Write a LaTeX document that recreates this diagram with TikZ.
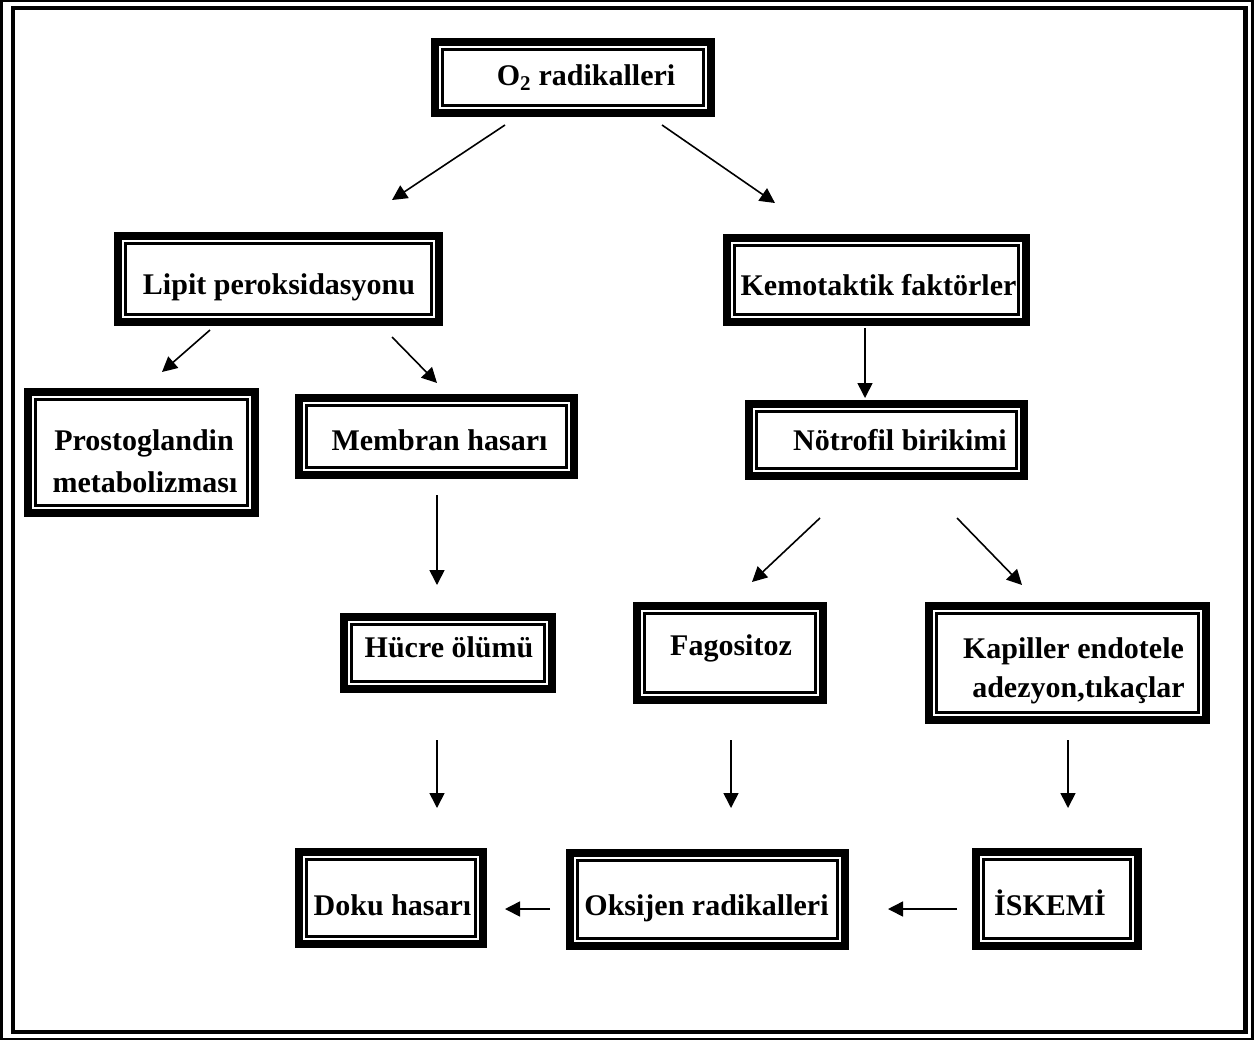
\documentclass[tikz,border=0pt]{standalone}
\usepackage{fontspec}
\setmainfont{Liberation Serif}
\usetikzlibrary{arrows.meta,calc}
\tikzset{
  frame/.style={draw=black, line width=8pt, inner sep=0pt, rectangle},
  innerline/.style={draw=black, line width=2.3pt},
  lbl/.style={inner sep=0pt, font=\bfseries\fontsize{30}{36}\selectfont},
  arr/.style={line width=1.6pt, -{Triangle[length=15pt,width=15pt]}},
}
\newcommand\dbx[8]{%
  \node[frame, minimum width={#4-#2-8}, minimum height={#5-#3-8}] (#1) at ({(#2+#4)/2},{(#3+#5)/2}) {};
  \draw[innerline] ([shift={(11.5,11.5)}]#1.north west) rectangle ([shift={(-11.5,-11.5)}]#1.south east);
  \node[lbl, anchor=base] (#1-t) at (#6,#7) {#8};
}
\begin{document}
\begin{tikzpicture}[x=1pt,y=-1pt]
\useasboundingbox (0,0) rectangle (1258,1042);
% outer frame
\draw[line width=2.5pt] (1.5,1.2) rectangle (1252.5,1039);
\draw[line width=4.5pt] (13,8) rectangle (1245.5,1032);
% boxes
\dbx{o2}{431}{38}{715}{117}{586}{85}{O\textsubscript{2} radikalleri}
\dbx{lipit}{114}{232}{443}{326}{279}{294}{Lipit peroksidasyonu}
\dbx{kemo}{723}{234}{1030}{326}{878.5}{295}{Kemotaktik faktörler}
\dbx{prost}{24}{388}{259}{517}{144}{450}{Prostoglandin}
\node[lbl, anchor=base] (prost-t2) at (145,492) {metabolizması};
\dbx{membran}{295}{394}{578}{479}{439.5}{450}{Membran hasarı}
\dbx{notro}{745}{400}{1028}{480}{900}{450}{Nötrofil birikimi}
\dbx{hucre}{340}{613}{556}{693}{449}{657}{Hücre ölümü}
\dbx{fago}{633}{602}{827}{704}{731}{655}{Fagositoz}
\dbx{kap}{925}{602}{1210}{724}{1073.5}{658}{Kapiller endotele}
\node[lbl, anchor=base] (kap-t2) at (1078.5,697) {adezyon,tıkaçlar};
\dbx{doku}{295}{848}{487}{948}{392.5}{915}{Doku hasarı}
\dbx{oks}{566}{849}{849}{950}{706.5}{915}{Oksijen radikalleri}
\dbx{isk}{972}{848}{1142}{950}{1050}{915}{İSKEMİ}
% arrow end points
\coordinate (a1s) at (505,125);  \coordinate (a1e) at (392,200);
\coordinate (a2s) at (662,125);  \coordinate (a2e) at (775,203);
\coordinate (a3s) at (210,330);  \coordinate (a3e) at (162,372);
\coordinate (a4s) at (392,337);  \coordinate (a4e) at (437,383);
\coordinate (a5s) at (865,328);  \coordinate (a5e) at (865,398);
\coordinate (a6s) at (437,495);  \coordinate (a6e) at (437,585);
\coordinate (a7s) at (820,518);  \coordinate (a7e) at (752,582);
\coordinate (a8s) at (957,518);  \coordinate (a8e) at (1022,585);
\coordinate (a9s) at (437,740);  \coordinate (a9e) at (437,808);
\coordinate (a10s) at (731,740); \coordinate (a10e) at (731,808);
\coordinate (a11s) at (1068,740); \coordinate (a11e) at (1068,808);
\coordinate (a12s) at (957,909); \coordinate (a12e) at (888,909);
\coordinate (a13s) at (550,909); \coordinate (a13e) at (505,909);
\foreach \i in {1,...,13}{\draw[arr] (a\i s) -- (a\i e);}
\end{tikzpicture}
\end{document}
